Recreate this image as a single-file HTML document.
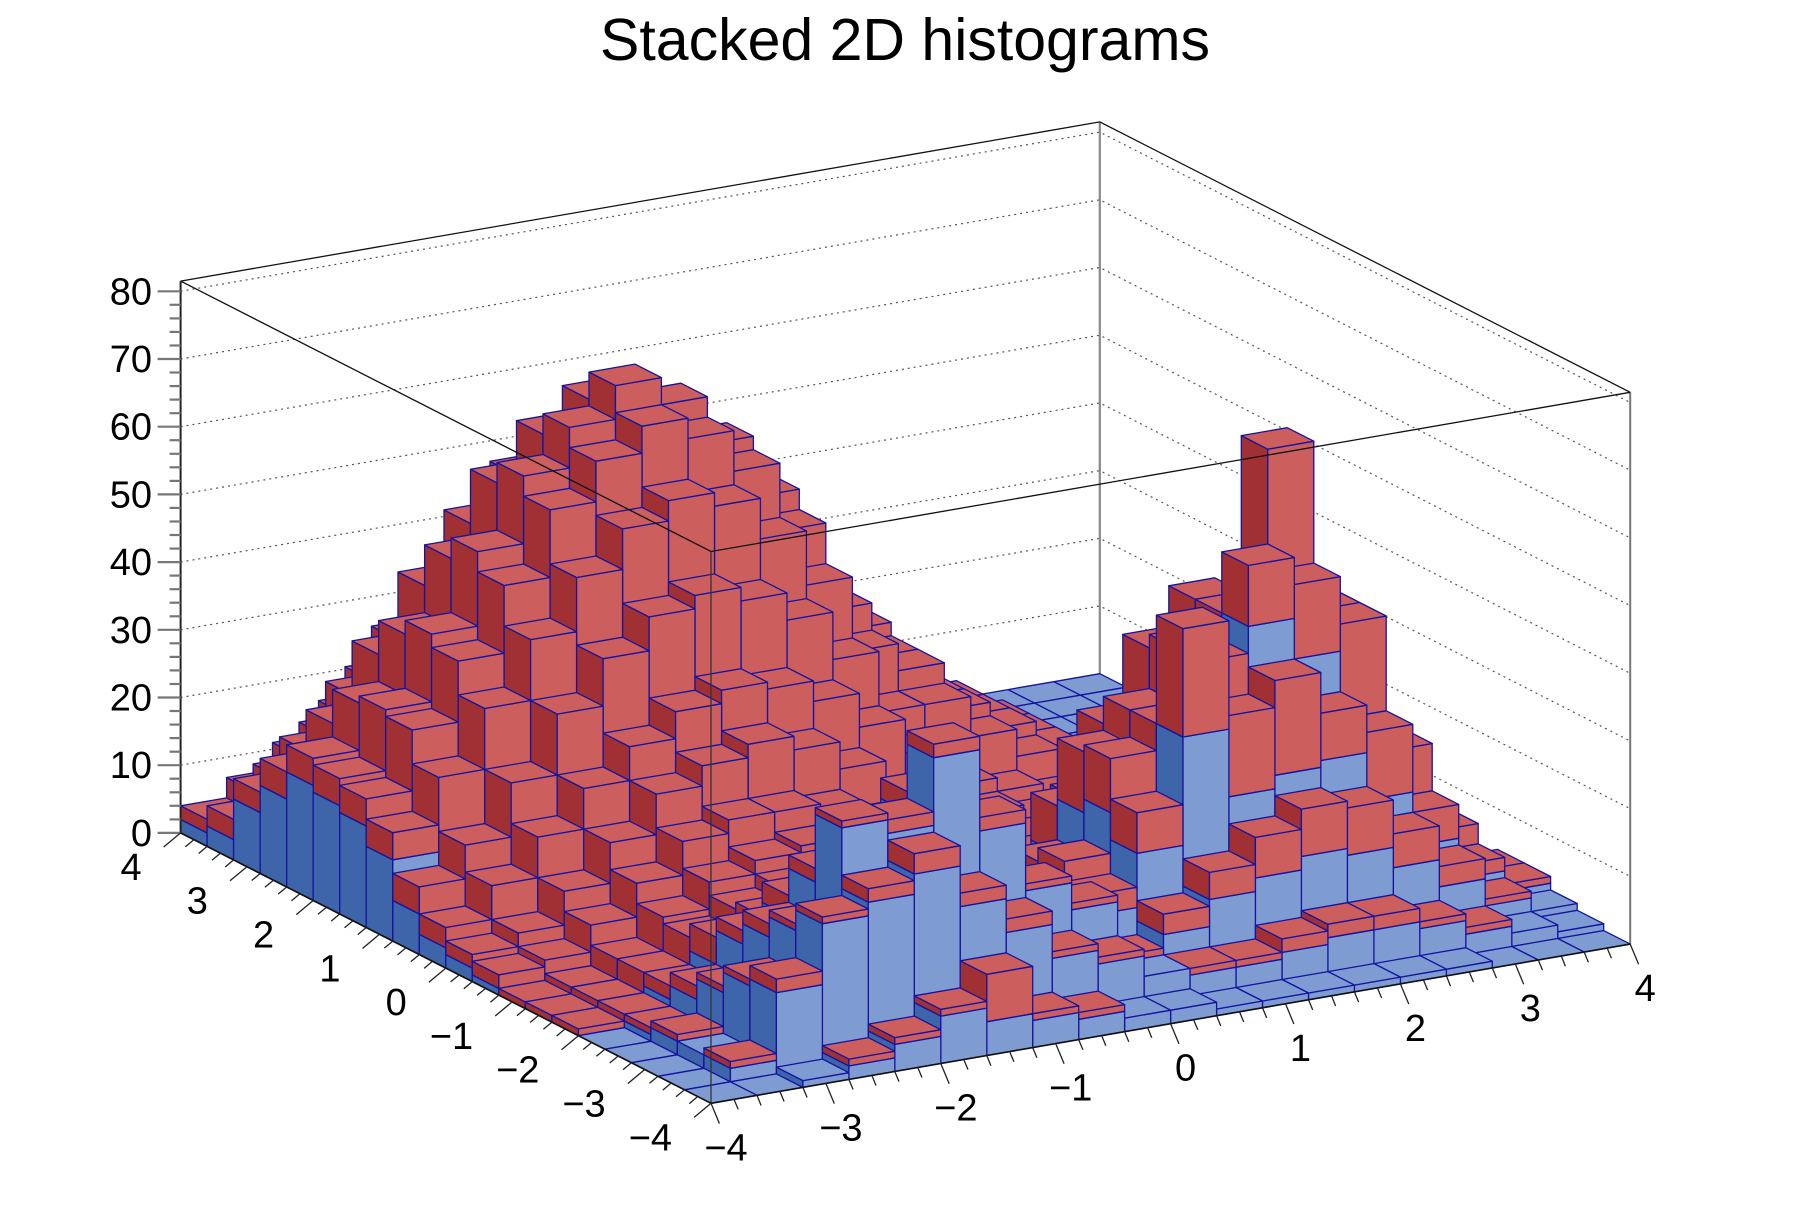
<!DOCTYPE html>
<html><head><meta charset="utf-8"><title>Stacked 2D histograms</title>
<style>
html,body{margin:0;padding:0;background:#fff;}
svg{display:block;font-family:"Liberation Sans",Arial,sans-serif;}
</style></head>
<body>
<svg id="chart" width="1813" height="1227" viewBox="0 0 1813 1227" xmlns="http://www.w3.org/2000/svg">
<rect x="0" y="0" width="1813" height="1227" fill="#ffffff"/>
<text x="905" y="60" text-anchor="middle" font-size="59" fill="#000">Stacked 2D histograms</text>
<g id="back"></g>
<g id="bars"></g>
<g id="front"></g>
</svg>
<script>
// ---- data (rows = y bins from -4 upward, columns = x bins from -4 to 4) ----
const xMin = -4, xMax = 4, yMin = -4, yMax = 4, nBins = 20;
const zTicks = [0,10,20,30,40,50,60,70,80];
const xTickLabels = ["\u22124","\u22123","\u22122","\u22121","0","1","2","3","4"];
const yTickLabels = ["\u22124","\u22123","\u22122","\u22121","0","1","2","3","4"];
const zMaxAxis = 81.5;
const blueCounts = [
[0,0,1,2,4,7,5,4,3,2,2,1,1,1,1,1,1,0,0,0],
[0,2,12,21,23,26,20,15,10,8,5,4,4,5,6,6,5,3,2,1],
[0,2,11,18,32,30,40,28,18,14,5,8,12,14,16,15,12,8,4,2],
[0,2,8,15,22,24,30,20,13,10,10,18,34,24,26,27,20,12,6,3],
[0,1,5,12,15,14,12,9,7,6,12,22,24,30,46,40,30,16,8,3],
[0,1,3,7,8,8,7,5,4,3,10,20,24,30,34,44,28,14,6,2],
[0,0,2,4,5,5,4,3,3,2,6,12,18,24,28,26,18,10,4,1],
[0,0,1,3,4,4,4,3,2,2,3,6,10,14,16,14,10,6,2,1],
[1,1,2,4,5,5,4,4,3,3,1,3,5,7,8,7,5,3,1,0],
[2,2,4,6,7,7,7,7,6,5,6,6,5,5,4,3,2,1,0,0],
[3,5,7,9,11,12,12,12,11,9,9,7,6,5,4,1,0,0,0,0],
[6,8,11,15,18,20,21,20,18,15,12,12,9,7,5,3,1,0,0,0],
[12,15,19,22,26,29,30,29,26,22,17,15,10,8,6,4,1,0,0,0],
[15,19,23,27,33,36,38,36,33,27,21,15,10,8,6,4,1,1,0,0],
[16,20,25,30,35,39,41,39,35,30,23,17,11,8,6,4,1,1,0,0],
[17,19,23,27,33,36,38,36,33,27,21,15,10,8,6,3,1,1,0,0],
[13,15,19,22,26,29,30,29,26,22,17,13,9,6,4,2,1,0,0,0],
[9,10,12,14,17,19,20,19,17,14,11,8,6,3,2,1,1,0,0,0],
[3,5,6,8,10,11,11,11,10,8,6,5,3,2,1,1,0,0,0,0],
[2,2,3,4,5,5,5,5,5,4,3,2,2,1,1,0,0,0,0,0]
];
const redCounts = [
[0,0,0,1,1,1,7,1,1,0,0,0,0,0,0,0,0,0,0,0],
[0,1,2,1,2,3,2,2,1,1,0,1,1,2,2,2,1,1,0,0],
[0,0,1,1,1,2,2,2,1,1,1,3,4,6,7,7,5,3,1,0],
[0,1,1,2,2,3,3,3,2,2,3,6,16,12,14,7,10,5,2,1],
[0,1,2,2,3,4,4,4,3,2,4,8,10,12,9,11,14,8,3,1],
[1,1,2,4,5,6,6,6,5,4,4,9,10,12,12,25,16,8,3,1],
[1,2,3,5,7,9,9,9,7,5,3,7,12,16,18,17,12,6,2,1],
[1,2,4,7,10,12,13,12,10,7,2,4,7,9,10,9,7,4,1,0],
[2,3,6,9,13,15,16,15,13,9,6,3,2,4,5,4,3,2,1,0],
[2,4,7,11,16,19,21,19,16,11,8,6,5,4,3,2,1,1,0,0],
[3,6,10,14,17,20,22,21,19,16,11,7,6,5,4,0,0,0,0,0],
[4,7,12,17,21,24,25,24,22,18,12,12,9,7,5,2,0,0,0,0],
[4,8,13,19,23,26,28,27,24,20,14,12,10,8,6,3,0,0,0,0],
[4,9,14,20,24,27,29,28,25,21,14,12,10,8,6,3,0,0,0,0],
[4,9,14,20,25,27,30,28,25,21,14,12,10,8,6,3,1,0,0,0],
[4,9,14,20,24,27,29,28,25,20,13,11,9,7,5,2,0,0,0,0],
[4,8,13,19,23,26,28,26,23,19,12,9,6,4,3,1,0,0,0,0],
[3,7,12,17,21,24,25,24,21,17,11,6,3,1,0,0,0,0,0,0],
[3,6,10,15,18,21,22,21,18,14,9,5,2,1,0,0,0,0,0,0],
[2,5,8,12,15,17,18,17,15,12,8,4,2,1,0,0,0,0,0,0]
];

// ---- projection ----
const O = [711, 1103.3], EX = [114.9, -19.9], EY = [-66.3, -33.8], EZ = 6.77;
function P(x, y, z) {
  const a = x - xMin, b = y - yMin;
  return [O[0] + a*EX[0] + b*EY[0], O[1] + a*EX[1] + b*EY[1] - z*EZ];
}
const NS = "http://www.w3.org/2000/svg";
function mk(tag, attrs, parent) {
  const e = document.createElementNS(NS, tag);
  for (const k in attrs) e.setAttribute(k, attrs[k]);
  parent.appendChild(e);
  return e;
}
function pts(arr) { return arr.map(p => p[0].toFixed(1)+","+p[1].toFixed(1)).join(" "); }
function line(g, a, b, stroke, w, dash) {
  const at = {x1:a[0].toFixed(1), y1:a[1].toFixed(1), x2:b[0].toFixed(1), y2:b[1].toFixed(1), stroke:stroke, "stroke-width":w};
  if (dash) at["stroke-dasharray"] = dash;
  return mk("line", at, g);
}

const back = document.getElementById("back");
const bars = document.getElementById("bars");
const front = document.getElementById("front");

// back walls grid
for (let k = 1; k < zTicks.length; k++) {
  const z = zTicks[k];
  const gl = mk("polyline", {points: pts([P(xMin,yMax,z), P(xMax,yMax,z), P(xMax,yMin,z)]), fill:"none", stroke:"#555", "stroke-width":1.2, "stroke-dasharray":"2,4"}, back);
  
  
}
let e;
e = line(back, P(xMax,yMax,0), P(xMax,yMax,zMaxAxis), "#888", 2.2);


e = line(back, P(xMax,yMin,0), P(xMax,yMin,zMaxAxis), "#777", 2);


e = mk("polyline", {points: pts([P(xMin,yMax,zMaxAxis), P(xMax,yMax,zMaxAxis), P(xMax,yMin,zMaxAxis)]), fill:"none", stroke:"#111", "stroke-width":1.3}, back);



// bars
const dx = (xMax - xMin)/nBins, dy = (yMax - yMin)/nBins;
const EDGE = "#1414a0";
function face(g, poly, fill, name) {
  const f = mk("polygon", {points: pts(poly), fill: fill, stroke: EDGE, "stroke-width": 1.3, "stroke-linejoin":"round"}, g);
  
  
}
function box(g, x0, x1, y0, y1, z0, z1, cFront, cSide, cTop, name) {
  if (z1 > z0) {
    face(g, [P(x0,y0,z0), P(x0,y1,z0), P(x0,y1,z1), P(x0,y0,z1)], cSide, name + "-side");
    face(g, [P(x0,y0,z0), P(x1,y0,z0), P(x1,y0,z1), P(x0,y0,z1)], cFront, name + "-front");
  }
  face(g, [P(x0,y0,z1), P(x1,y0,z1), P(x1,y1,z1), P(x0,y1,z1)], cTop, name + "-top");
}
for (let j = nBins - 1; j >= 0; j--) {
  for (let i = nBins - 1; i >= 0; i--) {
    const x0 = xMin + i*dx, x1 = x0 + dx, y0 = yMin + j*dy, y1 = y0 + dy;
    const b = blueCounts[j][i], r = redCounts[j][i];
    const g = mk("g", {}, bars);
    
    
    if (b > 0 || r === 0) box(g, x0, x1, y0, y1, 0, b, "#7e9cd2", "#3e64aa", "#7e9cd2", "blue-bar");
    if (r > 0) box(g, x0, x1, y0, y1, b, b + r, "#cd5e5e", "#a03034", "#cd5e5e", "red-bar");
  }
}

// front frame (drawn over bars)
e = mk("polyline", {points: pts([P(xMin,yMax,zMaxAxis), P(xMin,yMin,zMaxAxis), P(xMax,yMin,zMaxAxis)]), fill:"none", stroke:"#111", "stroke-width":1.3}, front);


e = line(front, P(xMin,yMin,0), P(xMin,yMin,zMaxAxis), "#333", 1.3);



// z axis
const zAxisG = mk("g", {}, front);


e = line(zAxisG, P(xMin,yMax,0), P(xMin,yMax,zMaxAxis), "#222", 2);


for (let z = 0; z <= 80; z += 2) {
  const p = P(xMin, yMax, z);
  const major = z % 10 === 0;
  const t = line(zAxisG, [p[0] - (major ? 23 : 11), p[1]], p, "#777", 2.2);
  
  
}
zTicks.forEach(z => {
  const p = P(xMin, yMax, z);
  const t = mk("text", {x: 152, y: (p[1] + 13).toFixed(1), "text-anchor":"end", "font-size":38, fill:"#000"}, zAxisG);
  t.textContent = String(z);
  
  
});

// x axis
const xAxisG = mk("g", {}, front);


e = line(xAxisG, P(xMin,yMin,0), P(xMax,yMin,0), "#111", 1.6);


for (let k = 0; k <= 40; k++) {
  const x = xMin + k*0.2;
  const p = P(x, yMin, 0);
  const major = k % 5 === 0;
  const L = major ? 22 : 11;
  const t = line(xAxisG, p, [p[0] + 0.38*L, p[1] + 0.92*L], "#222", 1.3);
  
  
}
xTickLabels.forEach((lab, k) => {
  const p = P(xMin + k, yMin, 0);
  const t = mk("text", {x: (p[0] + 15).toFixed(1), y: (p[1] + 57).toFixed(1), "text-anchor":"middle", "font-size":38, fill:"#000"}, xAxisG);
  t.textContent = lab;
  
  
});

// y axis
const yAxisG = mk("g", {}, front);


e = line(yAxisG, P(xMin,yMin,0), P(xMin,yMax,0), "#111", 1.6);


for (let k = 0; k <= 40; k++) {
  const y = yMin + k*0.2;
  const p = P(xMin, y, 0);
  const major = k % 5 === 0;
  const L = major ? 22 : 11;
  const t = line(yAxisG, p, [p[0] - 0.77*L, p[1] + 0.64*L], "#222", 1.3);
  
  
}
yTickLabels.forEach((lab, k) => {
  const p = P(xMin, yMin + k, 0);
  const t = mk("text", {x: (p[0] - 39).toFixed(1), y: (p[1] + 47).toFixed(1), "text-anchor":"end", "font-size":38, fill:"#000"}, yAxisG);
  t.textContent = lab;
  
  
});
</script>
</body></html>
